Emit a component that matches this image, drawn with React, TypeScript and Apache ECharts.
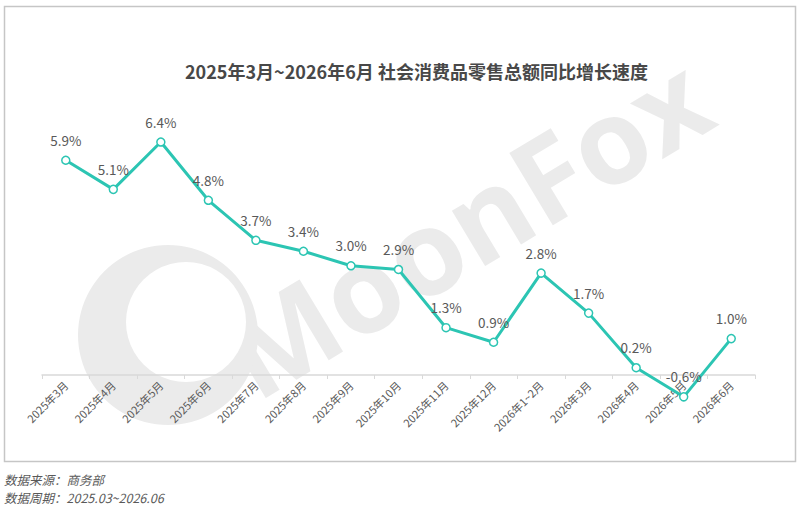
import React, { useEffect, useRef } from "react";
import * as echarts from "echarts";

const categories = [
  "2025年3月", "2025年4月", "2025年5月", "2025年6月", "2025年7月", "2025年8月",
  "2025年9月", "2025年10月", "2025年11月", "2025年12月", "2026年1~2月",
  "2026年3月", "2026年4月", "2026年5月", "2026年6月",
];
const growth = [5.9, 5.1, 6.4, 4.8, 3.7, 3.4, 3.0, 2.9, 1.3, 0.9, 2.8, 1.7, 0.2, -0.6, 1.0];
const titleText = "2025年3月~2026年6月 社会消费品零售总额同比增长速度";
const sourceText = "数据来源：商务部";
const periodText = "数据周期：2025.03~2026.06";

export default function App() {
  const ref = useRef<HTMLDivElement>(null);
  useEffect(() => {
    if (!ref.current) return;
    const chart = echarts.init(ref.current, undefined, { renderer: "svg" });
    const font = "'Noto Sans CJK SC', 'Noto Sans', sans-serif";
    chart.setOption({
      animation: false,
      backgroundColor: "#ffffff",
      textStyle: { fontFamily: font },
      title: {
        text: titleText,
        left: 180,
        top: 57,
        textStyle: { fontSize: 18, fontWeight: "bold", color: "#484848", fontFamily: font },
      },
      graphic: [
        {
          type: "rect",
          shape: { x: 4.5, y: 6.5, width: 791, height: 455 },
          style: { fill: "none", stroke: "#c6c6c6", lineWidth: 1.5 },
          z: 0,
        },
        {
          type: "text",
          x: 465, y: 225,
          rotation: Math.PI / 5.8,
          style: {
            text: "MoonFox",
            fill: "#ebebeb",
            font: "bold 118px 'Open Sans', sans-serif",
            align: "center",
            verticalAlign: "middle",
          },
          z: 0,
        },
        {
          type: "circle",
          shape: { cx: 168, cy: 335, r: 90 },
          style: { fill: "#ebebeb" },
          z: 0,
        },
        {
          type: "circle",
          shape: { cx: 186, cy: 322, r: 60 },
          style: { fill: "#ffffff" },
          z: 0,
        },
        {
          type: "text",
          x: 4, y: 479,
          style: { text: sourceText, fill: "#595959", font: "italic 12.5px 'Noto Sans CJK SC', sans-serif", verticalAlign: "middle" },
        },
        {
          type: "text",
          x: 4, y: 497,
          style: { text: periodText, fill: "#595959", font: "italic 12.5px 'Noto Sans CJK SC', sans-serif", verticalAlign: "middle" },
        },
      ],
      grid: { left: 42, right: 45, top: 120.2, bottom: 133 },
      xAxis: {
        type: "category",
        data: categories,
        boundaryGap: true,
        axisLine: { onZero: true, lineStyle: { color: "#d9d9d9", width: 1.5 } },
        axisTick: { show: true, length: 4, lineStyle: { color: "#d9d9d9" } },
        axisLabel: { rotate: 45, color: "#595959", fontSize: 11, interval: 0, margin: 8 },
      },
      yAxis: {
        type: "value",
        min: 0,
        max: 7,
        show: false,
        splitLine: { show: false },
      },
      series: [
        {
          type: "line",
          data: growth,
          clip: false,
          symbol: "circle",
          symbolSize: 8,
          lineStyle: { color: "#2cc5b3", width: 3 },
          itemStyle: { color: "#ffffff", borderColor: "#2cc5b3", borderWidth: 1.5 },
          label: {
            show: true,
            position: "top",
            distance: 9,
            color: "#595959",
            fontSize: 13.5,
            formatter: (p: any) => `${p.value.toFixed(1)}%`,
          },
          z: 3,
        },
      ],
    });
    return () => chart.dispose();
  }, []);
  return <div ref={ref} style={{ position: "fixed", left: 0, top: 0, width: 800, height: 508 }} />;
}
